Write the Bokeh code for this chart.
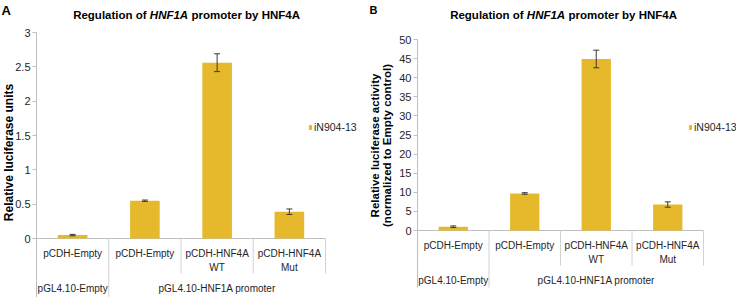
import math
from bokeh.plotting import figure
from bokeh.models import (Range1d, FixedTicker, ColumnDataSource, Whisker, TeeHead,
                          Label, Legend, LegendItem, LinearAxis)
from bokeh.layouts import row
from bokeh.embed import file_html
from bokeh.resources import INLINE
from bokeh.core.properties import value

# ---------------- data ----------------
categories = ["pCDH-Empty", "pCDH-Empty", "pCDH-HNF4A\nWT", "pCDH-HNF4A\nMut"]
groups = ["pGL4.10-Empty", "pGL4.10-HNF1A promoter"]
group_sizes = [1, 3]
series_name = "iN904-13"
title_parts = ["Regulation of", "HNF1A", "promoter by HNF4A"]

values_a = [0.05, 0.55, 2.56, 0.39]
errors_a = [0.01, 0.01, 0.13, 0.04]
yticks_a = [0, 0.5, 1, 1.5, 2, 2.5, 3]
ylabels_a = ["0", "0.5", "1", "1.5", "2", "2.5", "3"]
ytitle_a = ["Relative luciferase units"]

values_b = [1.0, 9.7, 44.9, 6.8]
errors_b = [0.2, 0.2, 2.3, 0.7]
yticks_b = [0, 5, 10, 15, 20, 25, 30, 35, 40, 45, 50]
ylabels_b = ["0", "5", "10", "15", "20", "25", "30", "35", "40", "45", "50"]
ytitle_b = ["Relative luciferase activity", "(normalized to Empty control)"]

# ---------------- style ----------------
FONT = "Liberation Sans"
BAR = "#E5B92B"
ERR = "#3A3A3A"
AXIS = "#BFBFBF"
SEP = "#D2D2D2"
TXT = "#262626"

GEOM_A = dict(left=36, right=325, top=32, zero=238, bottom=297, title_c=186, title_y=14.5,
              ytitle_x=[8], ytitle_y=152, ytitle_size="12px", leg=(308, 133),
              letter_x=1, letter_size="13px")
GEOM_B = dict(left=49, right=335, top=39, zero=230, bottom=287, title_c=195, title_y=14.5,
              ytitle_x=[6.5, 18.5], ytitle_y=145, ytitle_size="11.5px", leg=(320, 133),
              letter_x=1, letter_size="11px")


def panel(letter, values, errors, yticks, ylabels, ytitle, g):
    n = len(categories)
    W, H = 368, 297
    left, right, top, zero, bottom = g["left"], g["right"], g["top"], g["zero"], g["bottom"]
    ymax = yticks[-1]
    ux = (right - left) / n
    uy = (zero - top) / ymax

    def dx(cx):
        return (cx - left) / ux

    def dy(cy):
        return (zero - cy) / uy

    p = figure(width=W, height=H, output_backend="svg", toolbar_location=None, title=None,
               x_range=Range1d(dx(0), dx(W)), y_range=Range1d(dy(H), dy(0)),
               x_axis_location=None, y_axis_location=None, min_border=0,
               outline_line_color=None, background_fill_color="white",
               border_fill_color="white")
    p.grid.visible = False

    ax = LinearAxis(fixed_location=0, bounds=(dy(bottom), ymax),
                    ticker=FixedTicker(ticks=yticks, minor_ticks=[]),
                    major_label_overrides=dict(zip(yticks, ylabels)))
    ax.axis_line_color = AXIS
    ax.major_tick_line_color = AXIS
    ax.major_tick_in = 0
    ax.major_tick_out = 4
    ax.minor_tick_line_color = None
    ax.major_label_standoff = 2
    ax.major_label_text_font = FONT
    ax.major_label_text_font_size = "11px"
    ax.major_label_text_color = TXT
    p.add_layout(ax, "left")

    xs = [i + 0.5 for i in range(n)]
    src = ColumnDataSource(dict(
        x=xs, top=values,
        upper=[v + e for v, e in zip(values, errors)],
        lower=[v - e for v, e in zip(values, errors)]))

    # category axis line at zero
    p.segment(x0=[0], y0=[0], x1=[n], y1=[0], line_color=AXIS, line_width=1)

    # separators
    edges = []
    acc = 0
    for s in group_sizes:
        acc += s
        edges.append(acc)
    sx, sy0, sy1 = [], [], []
    for b in range(1, n + 1):
        sx.append(b)
        sy0.append(0)
        sy1.append(dy(bottom) if (b in edges and b < n) else -35 / uy)
    p.segment(x0=sx, y0=sy0, x1=sx, y1=sy1, line_color=SEP, line_width=1)

    bars = p.vbar(x="x", top="top", bottom=0, width=0.41, source=src,
                  fill_color=BAR, line_color=None)

    w = Whisker(source=src, base="x", upper="upper", lower="lower", dimension="height",
                line_color=ERR, line_width=1, level="annotation",
                upper_head=TeeHead(size=6, line_color=ERR, line_width=1),
                lower_head=TeeHead(size=6, line_color=ERR, line_width=1))
    p.add_layout(w)

    # category labels
    first = [c.split("\n")[0] for c in categories]
    sec_x = [xs[i] for i, c in enumerate(categories) if "\n" in c]
    sec_t = [c.split("\n")[1] for c in categories if "\n" in c]
    common = dict(text_align="center", text_baseline="middle", text_font=value(FONT),
                  text_font_size="10px", text_color=TXT)
    p.text(x=xs, y=[-14.5 / uy] * n, text=first, **common)
    p.text(x=sec_x, y=[-28.5 / uy] * len(sec_x), text=sec_t, **common)
    gx = []
    acc = 0
    for s in group_sizes:
        gx.append(acc + s / 2)
        acc += s
    p.text(x=gx, y=[-49.5 / uy] * len(gx), text=groups, **common)

    # title (mixed italic)
    hc = g["title_c"] - 17.5
    ty = dy(g["title_y"])
    tstyle = dict(y=ty, text_baseline="middle", text_font=FONT, text_font_size="11.5px",
                  text_color="black")
    p.add_layout(Label(x=dx(hc - 22.4), text=title_parts[0], text_align="right",
                       text_font_style="bold", **tstyle))
    p.add_layout(Label(x=dx(hc), text=title_parts[1], text_align="center",
                       text_font_style="bold italic", **tstyle))
    p.add_layout(Label(x=dx(hc + 22.4), text=title_parts[2], text_align="left",
                       text_font_style="bold", **tstyle))

    # y axis title
    for tx, tt in zip(g["ytitle_x"], ytitle):
        p.add_layout(Label(x=dx(tx), y=dy(g["ytitle_y"]), text=tt, angle=math.pi / 2,
                           text_align="center", text_baseline="middle", text_font=FONT,
                           text_font_style="bold", text_font_size=g["ytitle_size"],
                           text_color="black"))

    # panel letter
    p.add_layout(Label(x=dx(g["letter_x"]), y=dy(9.5), text=letter, text_align="left",
                       text_baseline="middle", text_font=FONT, text_font_style="bold",
                       text_font_size=g["letter_size"], text_color="black"))

    # legend
    lx, lb = g["leg"]
    legend = Legend(items=[LegendItem(label=series_name, renderers=[bars])],
                    location=(lx, H - lb),
                    glyph_width=4, glyph_height=6, label_standoff=2, label_height=12,
                    label_width=0, padding=0, margin=0, spacing=0,
                    border_line_color=None, background_fill_alpha=0,
                    label_text_font=FONT, label_text_font_size="10.5px",
                    label_text_color=TXT)
    p.add_layout(legend)
    return p


pa = panel("A", values_a, errors_a, yticks_a, ylabels_a, ytitle_a, GEOM_A)
pb = panel("B", values_b, errors_b, yticks_b, ylabels_b, ytitle_b, GEOM_B)

layout = row(pa, pb, spacing=0)
open("out.html", "w").write(file_html(layout, INLINE))
